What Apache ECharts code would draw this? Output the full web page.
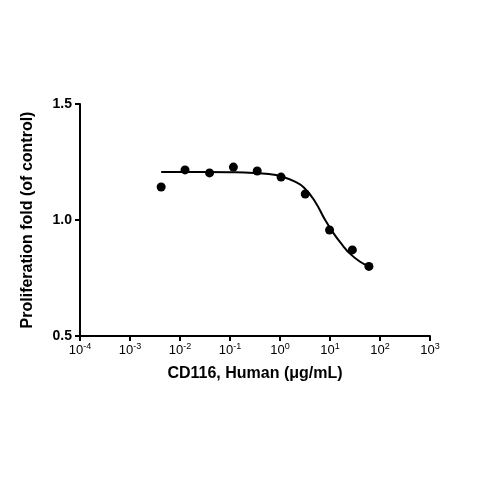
<!DOCTYPE html><html><head><meta charset="utf-8">
<script src="https://cdn.jsdelivr.net/npm/echarts@6/dist/echarts.min.js"></script>
<style>body{margin:0}#c{width:480px;height:480px}</style></head><body><div id="c"></div>
<script>
const pointX=[0.0042,0.0126,0.039,0.117,0.35,1.05,3.2,9.8,28,60];
const pointY=[1.142,1.216,1.203,1.228,1.211,1.185,1.112,0.957,0.871,0.80];
const curveX=[0.0042,0.01,0.03,0.1,0.3,0.6,1,2,3,5,8,12,18,25,40,60];
const curveY=[1.207,1.207,1.207,1.206,1.203,1.198,1.19,1.165,1.14,1.08,1.00,0.94,0.89,0.855,0.82,0.80];
const ch=echarts.init(document.getElementById('c'));
ch.setOption({animation:false,
grid:{left:80,right:50,top:104,bottom:144},
xAxis:{type:'log',logBase:10,min:1e-4,max:1e3,name:'CD116, Human (μg/mL)',nameLocation:'middle',nameGap:30,
 nameTextStyle:{fontFamily:'Liberation Sans',fontWeight:'bold',fontSize:16,color:'#000'},
 axisLine:{lineStyle:{color:'#000',width:2}},axisTick:{length:5,lineStyle:{width:2,color:'#000'}},
 minorTick:{show:false},splitLine:{show:false},
 axisLabel:{margin:6,formatter:v=>{const e=Math.round(Math.log10(v));return '{b|10}{s|'+e+'}';},
  rich:{b:{fontSize:13,color:'#000',fontFamily:'Liberation Sans'},s:{fontSize:9,color:'#000',verticalAlign:'top',padding:[0,0,8,0],fontFamily:'Liberation Sans'}}}},
yAxis:{type:'value',min:0.5,max:1.5,interval:0.5,name:'Proliferation fold (of control)',nameLocation:'middle',nameGap:44,
 nameTextStyle:{fontFamily:'Liberation Sans',fontWeight:'bold',fontSize:16,color:'#000'},
 axisLine:{show:true,lineStyle:{color:'#000',width:2}},axisTick:{show:true,length:5,lineStyle:{width:2,color:'#000'}},splitLine:{show:false},
 axisLabel:{fontFamily:'Liberation Sans',fontWeight:'bold',fontSize:14,color:'#000',formatter:v=>v.toFixed(1)}},
series:[
{type:'line',data:curveX.map((x,i)=>[x,curveY[i]]),showSymbol:false,smooth:true,lineStyle:{color:'#000',width:2}},
{type:'scatter',data:pointX.map((x,i)=>[x,pointY[i]]),symbolSize:9,itemStyle:{color:'#000',opacity:1}}
]});
</script></body></html>
